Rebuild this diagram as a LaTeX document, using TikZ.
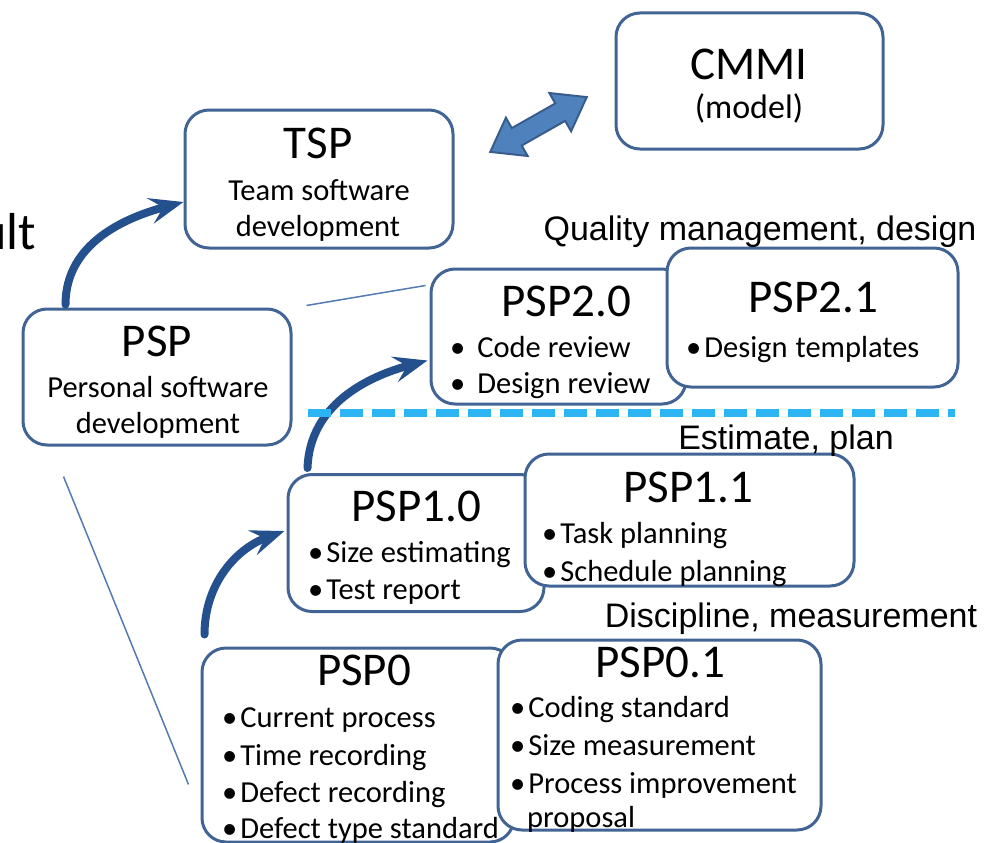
\documentclass[tikz,border=0pt]{standalone}
\usepackage{fontspec}
\setmainfont{Carlito}
\newfontfamily\arialf{Liberation Sans}
\usetikzlibrary{arrows.meta}

\definecolor{boxc}{RGB}{66,100,148}
\definecolor{arrc}{RGB}{36,80,142}
\definecolor{thinc}{RGB}{84,122,178}
\definecolor{dashc}{RGB}{45,180,245}
\definecolor{blockfill}{RGB}{79,129,189}
\definecolor{blockline}{RGB}{56,93,140}

\newcommand{\bul}{\textbullet\hspace{3pt}}

\tikzset{
  box/.style={draw=boxc, line width=3pt, fill=white, rounded corners=24pt, inner sep=0pt},
  ttl/.style={anchor=base, inner sep=0pt, font=\fontsize{47}{50}\selectfont},
  sub/.style={anchor=base, inner sep=0pt, font=\fontsize{30.5}{36}\selectfont},
  itm/.style={anchor=base west, inner sep=0pt, font=\fontsize{30.5}{36}\selectfont},
  lvl/.style={anchor=base, inner sep=0pt, font=\arialf\fontsize{34}{40}\selectfont},
  growarrow/.style={draw=arrc, line width=8pt, line cap=round,
    -{Stealth[length=34pt,width=26pt,inset=13pt]}},
  thinline/.style={draw=thinc, line width=1.5pt},
}

\begin{document}
\begin{tikzpicture}[x=1pt,y=1pt]
\useasboundingbox (0,0) rectangle (999,-843);

% word running off the left edge
\node[anchor=base east, inner sep=0pt, font=\fontsize{52}{56}\selectfont] (cut) at (36,-249) {ult};

% boxes
\node[box, minimum width=267pt, minimum height=136pt] (cmmi)  at (749.5,-81) {};
\node[box, minimum width=268pt, minimum height=138pt] (tsp)   at (319,-179) {};
\node[box, minimum width=268pt, minimum height=136pt] (psp)   at (157,-377) {};
\node[box, minimum width=255pt, minimum height=135pt] (psp20) at (558.5,-336.5) {};
\node[box, minimum width=291pt, minimum height=139pt] (psp21) at (812.5,-317.5) {};
\node[box, minimum width=256pt, minimum height=137pt] (psp10) at (416,-543) {};
\node[box, minimum width=329pt, minimum height=132pt] (psp11) at (689.5,-520) {};
\node[box, minimum width=312pt, minimum height=194pt] (psp0)  at (358,-745) {};
\node[box, minimum width=323pt, minimum height=190pt] (psp01) at (659.5,-735) {};

% box texts
\node[ttl] (cmmiT) at (749,-80) {CMMI};
\node[sub, font=\fontsize{34}{38}\selectfont] (cmmiS) at (749,-118) {(model)};

\node[ttl] (tspT) at (318,-158) {TSP};
\node[sub] (tspA) at (319,-200) {Team software};
\node[sub] (tspB) at (318,-236) {development};

\node[ttl] (pspT) at (157,-356) {PSP};
\node[sub] (pspA) at (158,-397) {Personal software};
\node[sub] (pspB) at (158,-433) {development};

\node[ttl] (p20T) at (566,-316) {PSP2.0};
\node[itm] (p20a) at (450,-357) {\textbullet\hspace{12pt}Code review};
\node[itm] (p20b) at (450,-393) {\textbullet\hspace{12pt}Design review};

\node[ttl] (p21T) at (813,-312) {PSP2.1};
\node[itm] (p21a) at (686,-357) {\bul Design\hspace{8pt}templates};

\node[ttl] (p10T) at (416,-521) {PSP1.0};
\node[itm] (p10a) at (308,-562) {\bul Size estimating};
\node[itm] (p10b) at (308,-599) {\bul Test report};

\node[ttl] (p11T) at (688,-502) {PSP1.1};
\node[itm] (p11a) at (542,-543) {\bul Task planning};
\node[itm] (p11b) at (542,-581) {\bul Schedule planning};

\node[ttl] (p0T) at (364,-685) {PSP0};
\node[itm] (p0a) at (222,-727) {\bul Current process};
\node[itm] (p0b) at (222,-765) {\bul Time recording};
\node[itm] (p0c) at (222,-802) {\bul Defect recording};
\node[itm] (p0d) at (222,-838) {\bul Defect type standard};

\node[ttl] (p01T) at (660,-677) {PSP0.1};
\node[itm] (p01a) at (510,-717) {\bul Coding standard};
\node[itm] (p01b) at (510,-755) {\bul Size measurement};
\node[itm] (p01c) at (510,-793) {\bul Process improvement};
\node[itm] (p01d) at (527,-827) {proposal};

% level labels
\node[lvl] (lq) at (760,-240) {Quality management, design};
\node[lvl] (le) at (786,-449) {Estimate, plan};
\node[lvl] (ld) at (791,-627) {Discipline, measurement};

% thin guide lines from PSP
\draw[thinline] ([xshift=14pt,yshift=2pt]psp.north east) -- ([xshift=-4pt,yshift=-18pt]psp20.north west);
\draw[thinline] ([xshift=42pt,yshift=-30pt]psp.south west) -- ([xshift=-12pt,yshift=59pt]psp0.south west);

% growth arrows
\draw[growarrow] ([xshift=44pt,yshift=3pt]psp.north west) to[out=90,in=195] ([yshift=-23pt]tsp.west);
\draw[growarrow] ([xshift=21pt,yshift=5pt]psp10.north west) to[out=88,in=195] ([xshift=-2pt,yshift=-24pt]psp20.west);
\draw[growarrow] ([xshift=4pt,yshift=12pt]psp0.north west) to[out=90,in=200] ([xshift=-2pt,yshift=12pt]psp10.west);

% dashed level separator
\coordinate (dashL) at (308,-413);
\coordinate (dashR) at (955,-413);
\draw[dashc, line width=7.5pt, dash pattern=on 23pt off 9pt] (dashL) -- (dashR);

% double block arrow between TSP and CMMI
\begin{scope}[shift={(538.5,-124.5)}, rotate=29.6]
  \draw[fill=blockfill, draw=blockline, line width=2pt, line join=miter]
    (-55.5,0) -- (-25,22) -- (-25,10) -- (25,10) -- (25,22) -- (55.5,0)
    -- (25,-22) -- (25,-10) -- (-25,-10) -- (-25,-22) -- cycle;
\end{scope}
\end{tikzpicture}
\end{document}
